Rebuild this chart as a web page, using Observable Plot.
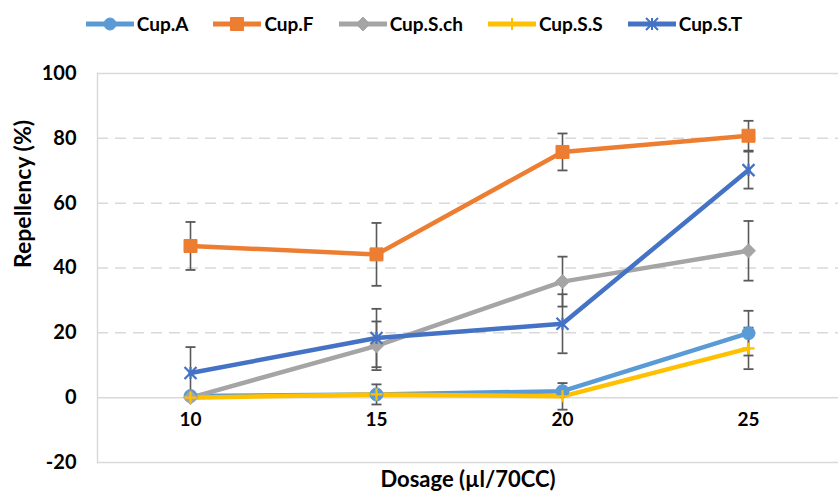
<!DOCTYPE html>
<html>
<head>
<meta charset="utf-8">
<script src="https://cdn.jsdelivr.net/npm/d3@7"></script>
<script src="https://cdn.jsdelivr.net/npm/@observablehq/plot@0.6"></script>
<style>
  html, body { margin: 0; padding: 0; background: #fff; }
  #wrap { position: relative; width: 838px; height: 493px; overflow: hidden; font-family: Lato, "Open Sans", sans-serif; }
  #chart { position: absolute; left: 0; top: 0; }
  #legend { position: absolute; left: 0; width: 828px; top: 12px; display: flex; justify-content: center; gap: 25px; align-items: center; }
  .item { display: flex; align-items: center; gap: 3px; font-weight: bold; font-size: 19px; color: #000; }
</style>
</head>
<body>
<div id="wrap">
  <div id="chart"></div>
  <div id="legend"></div>
</div>
<script>
// ---- data ----
const doses = [10, 15, 20, 25];
const seriesNames = ["Cup.A", "Cup.F", "Cup.S.ch", "Cup.S.S", "Cup.S.T"];
const cupA   = [0.5, 1.0, 2.0, 19.9];
const errA   = [0.8, 3.1, 0.5, 6.9];
const cupF   = [46.8, 44.2, 75.8, 80.8];
const errF   = [7.4, 9.7, 5.7, 4.6];
const cupSch = [0.0, 16.0, 35.8, 45.3];
const errSch = [0.5, 7.5, 7.7, 9.2];
const cupSS  = [0.0, 1.0, 0.4, 15.2];
const errSS  = [0.5, 0.5, 4.1, 6.4];
const cupST  = [7.6, 18.4, 22.8, 70.2];
const errST  = [8.0, 9.0, 9.1, 5.7];
const colors = ["#5B9BD5", "#ED7D31", "#A5A5A5", "#FFC000", "#4472C4"];
const yTicks = [-20, 0, 20, 40, 60, 80, 100];
const dashedTicks = [20, 40, 60, 80];
const solidTicks = [-20, 0, 100];
const xTitle = "Dosage (µl/70CC)";
const yTitle = "Repellency (%)";

const valueSets = [cupA, cupF, cupSch, cupSS, cupST];
const errSets = [errA, errF, errSch, errSS, errST];
const rows = [];
seriesNames.forEach((s, i) => doses.forEach((d, j) => rows.push({series: s, dose: d, value: valueSets[i][j], err: errSets[i][j]})));

// ---- custom symbols ----
const capSym = {draw(c) { c.moveTo(-5, 0); c.lineTo(5, 0); }};
const diamondSym = {draw(c) { const r = 7; c.moveTo(0, -r); c.lineTo(r, 0); c.lineTo(0, r); c.lineTo(-r, 0); c.closePath(); }};
const squareSym = {draw(c) { const r = 6.5; c.rect(-r, -r, 2 * r, 2 * r); }};
const plusSym = {draw(c) { const r = 6; c.moveTo(0, -r); c.lineTo(0, r); c.moveTo(-r, 0); c.lineTo(r, 0); }};
const starSym = {draw(c) { const r = 6; c.moveTo(-r, -r); c.lineTo(r, r); c.moveTo(-r, r); c.lineTo(r, -r); c.moveTo(0, -r); c.lineTo(0, r); }};
const markers = [
  {sym: "circle", r: 6.5, filled: true},
  {sym: squareSym, r: 5, filled: true},
  {sym: diamondSym, r: 5, filled: true},
  {sym: plusSym, r: 5, filled: false},
  {sym: starSym, r: 5, filled: false}
];

const font = "Lato, 'Open Sans', sans-serif";
const markerMarks = seriesNames.map((s, i) => {
  const m = markers[i];
  const data = rows.filter(d => d.series === s);
  return m.filled
    ? Plot.dot(data, {x: "dose", y: "value", symbol: () => m.sym, r: m.r, fill: colors[i], stroke: colors[i], strokeWidth: 1})
    : Plot.dot(data, {x: "dose", y: "value", symbol: () => m.sym, r: m.r, fill: "none", stroke: colors[i], strokeWidth: 2.2});
});

const errRows = rows.filter(d => d.err > 0.6);
const chart = Plot.plot({
  width: 838,
  height: 493,
  marginLeft: 97,
  marginRight: 0,
  marginTop: 73,
  marginBottom: 31,
  style: {fontFamily: font, background: "white", overflow: "visible"},
  x: {type: "linear", domain: [10, 25], range: [190, 748], axis: null},
  y: {domain: [-20, 100], axis: null},
  color: {domain: seriesNames, range: colors},
  symbol: {type: "identity"},
  marks: [
    Plot.ruleY(dashedTicks, {stroke: "#d9d9d9", strokeWidth: 1.5, strokeDasharray: "11,7"}),
    Plot.ruleY(solidTicks, {stroke: "#d9d9d9", strokeWidth: 1.5}),
    Plot.frame({anchor: "left", stroke: "#d9d9d9", strokeWidth: 1.5}),
    Plot.text(yTicks, {y: d => d, frameAnchor: "left", dx: -21, textAnchor: "end", text: d => String(d), fontSize: 20, fontWeight: "bold", fill: "#000"}),
    Plot.text(doses, {x: d => d, frameAnchor: "bottom", dy: -37, text: d => String(d), fontSize: 19, fontWeight: "bold", fill: "#000"}),
    Plot.text([yTitle], {frameAnchor: "left", dx: -74, dy: 0, rotate: -90, text: d => d, fontSize: 23, fontWeight: "bold", fill: "#000"}),
    Plot.text([xTitle], {frameAnchor: "bottom", dx: 0, dy: 24, text: d => d, fontSize: 22, fontWeight: "bold", fill: "#000"}),
    Plot.ruleX(errRows, {x: "dose", y1: d => d.value - d.err, y2: d => d.value + d.err, stroke: "#595959", strokeWidth: 1.6}),
    Plot.dot(errRows, {x: "dose", y: d => d.value - d.err, symbol: () => capSym, r: 3, stroke: "#595959", strokeWidth: 1.8, fill: "none"}),
    Plot.dot(errRows, {x: "dose", y: d => d.value + d.err, symbol: () => capSym, r: 3, stroke: "#595959", strokeWidth: 1.8, fill: "none"}),
    Plot.lineY(rows, {x: "dose", y: "value", z: "series", stroke: "series", strokeWidth: 4.5}),
    ...markerMarks
  ]
});
document.getElementById("chart").appendChild(chart);

// ---- legend ----
const legend = d3.select("#legend");
seriesNames.forEach((s, i) => {
  const item = legend.append("div").attr("class", "item");
  const svg = item.append("svg").attr("width", 48).attr("height", 20);
  svg.append("line").attr("x1", 0).attr("x2", 48).attr("y1", 10).attr("y2", 10)
    .attr("stroke", colors[i]).attr("stroke-width", 5);
  const m = markers[i];
  const path = d3.path();
  if (m.sym === "circle") path.arc(0, 0, 6, 0, 2 * Math.PI); else m.sym.draw(path, 0);
  svg.append("path").attr("d", path.toString()).attr("transform", "translate(24,10)")
    .attr("fill", m.filled ? colors[i] : "none").attr("stroke", colors[i]).attr("stroke-width", m.filled ? 1 : 2);
  item.append("span").text(s);
});
</script>
</body>
</html>
